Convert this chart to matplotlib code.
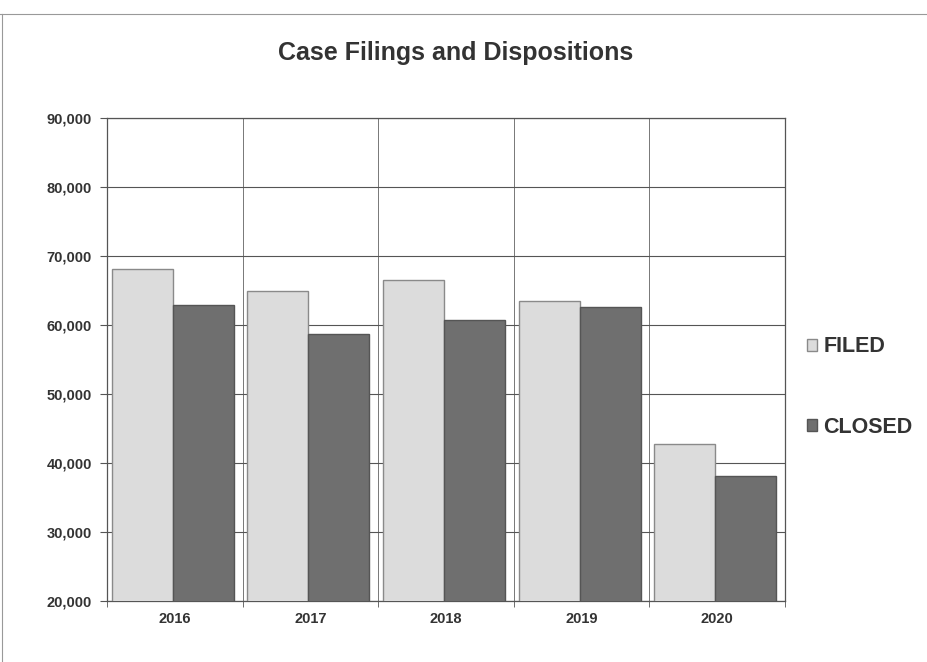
import numpy as np
import matplotlib
matplotlib.use("Agg")
import matplotlib.pyplot as plt
from matplotlib.lines import Line2D

years = ["2016", "2017", "2018", "2019", "2020"]
filed = [68100, 64900, 66500, 63500, 42700]
closed = [62900, 58700, 60700, 62600, 38100]

plt.rcParams['font.family'] = ['Liberation Sans', 'DejaVu Sans']

fig = plt.figure(figsize=(9.28, 6.62), dpi=100)
ax = fig.add_axes([107/928, 1 - 601/662, (785 - 107)/928, (601 - 118)/662])

x = np.arange(len(years))
w = 0.45
ax.bar(x - w/2 - 0.015, filed, w, color="#dcdcdc", edgecolor="#8a8a8a",
       linewidth=1, label="FILED", zorder=3)
ax.bar(x + w/2 - 0.015, closed, w, color="#6f6f6f", edgecolor="#555555",
       linewidth=1, label="CLOSED", zorder=3)

ax.set_xlim(-0.5, len(years) - 0.5)
ax.set_ylim(20000, 90000)
ax.set_yticks(np.arange(20000, 90001, 10000))
ax.set_yticklabels([f"{v:,}" for v in range(20000, 90001, 10000)],
                   fontsize=10.5, fontweight="bold", color="#333333")
ax.set_xticks(x)
ax.set_xticklabels(years, fontsize=10.5, fontweight="bold", color="#333333")
ax.set_xticks(np.arange(-0.5, len(years)), minor=True)
ax.tick_params(axis="x", which="major", length=0, pad=8)
ax.tick_params(axis="x", which="minor", length=4, color="#555555")
ax.tick_params(axis="y", length=5, color="#555555", pad=6)

ax.grid(axis="y", which="major", color="#555555", linewidth=0.8, zorder=1)
ax.grid(axis="x", which="minor", color="#777777", linewidth=0.7, zorder=1)
ax.set_axisbelow(True)
for s in ax.spines.values():
    s.set_color("#555555")
    s.set_linewidth(0.9)

fig.text(456/928, 1 - 53/662, "Case Filings and Dispositions", ha="center",
         va="center", fontsize=18, fontweight="bold", color="#333333")

leg = ax.legend(loc="center left", bbox_to_anchor=(788/928, 1 - 387/662),
                bbox_transform=fig.transFigure, frameon=False,
                prop={"size": 15.5, "weight": "bold"}, labelspacing=2.75,
                handlelength=0.45, handleheight=0.45, handletextpad=0.3)
for t in leg.get_texts():
    t.set_color("#333333")

# scanned page frame
fig.add_artist(Line2D([0, 1], [1 - 14/662, 1 - 14/662], transform=fig.transFigure,
                      color="#999999", linewidth=0.8))
fig.add_artist(Line2D([2/928, 2/928], [0, 1 - 14/662], transform=fig.transFigure,
                      color="#999999", linewidth=0.8))

fig.savefig("out.png", dpi=100)
